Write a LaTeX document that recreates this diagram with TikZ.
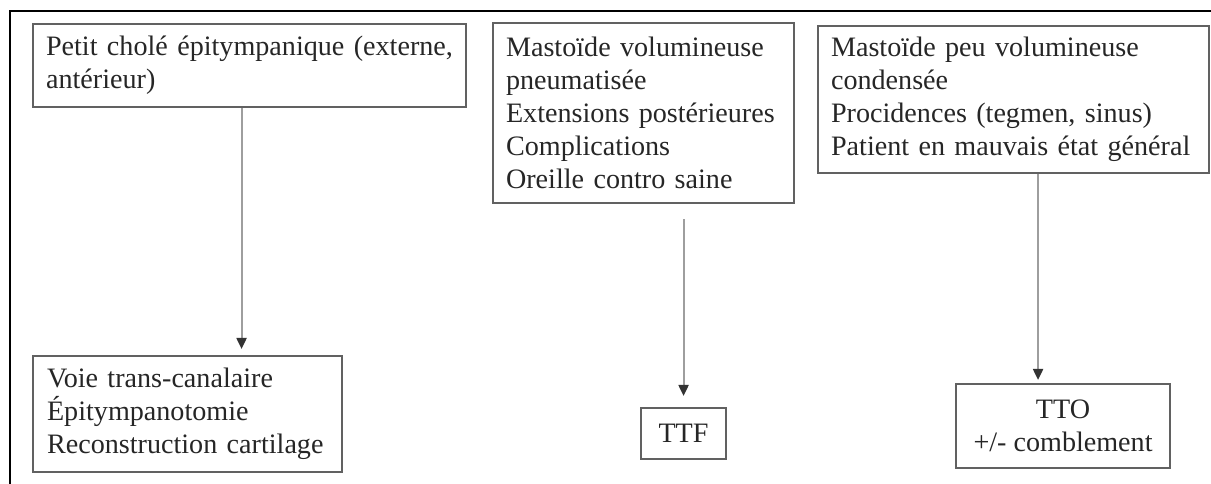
\documentclass[tikz,border=0pt]{standalone}
\usepackage{fontspec}
\setmainfont{Liberation Serif}
\usepackage{tikz}
\usetikzlibrary{positioning}
\usetikzlibrary{arrows.meta}

\newcommand{\pxu}{0.025cm}

\begin{document}
\begin{tikzpicture}[
	x=0.025cm, y=-0.025cm,
	font=\fontsize{20}{23.5}\selectfont
]
\tikzset{
    caserect/.style = {rectangle, draw=black!62, line width=1.5pt, text=black!85, align=left, anchor=north west, inner xsep=13*\pxu, inner ysep=0pt},
    fleche/.style = {draw=black!38, line width=1.4pt, -{Triangle[width=10*\pxu,length=11*\pxu,color=black!80]}}
}
\useasboundingbox (0,0) rectangle (1211,484);
\draw[line width=1.6pt] (10,484) -- (10,11) -- (1211,11);
\node[caserect,text width=407*\pxu,minimum height=83*\pxu] (petit) at (32,23) {Petit cholé épitympanique (externe,\\antérieur)};
\node[caserect,text width=275*\pxu,minimum height=180*\pxu] (volum) at (492,22) {Mastoïde volumineuse\\pneumatisée\\Extensions postérieures\\Complications\\Oreille contro saine};
\node[caserect,text width=365*\pxu,minimum height=147*\pxu] (peuvol) at (817,25) {Mastoïde peu volumineuse\\condensée\\Procidences (tegmen, sinus)\\Patient en mauvais état général};
\node[caserect,text width=281*\pxu,minimum height=116*\pxu,inner xsep=14*\pxu] (transcan) at (32,355) {Voie trans-canalaire\\Épitympanotomie\\Reconstruction cartilage};
\node[caserect,align=center,minimum width=85*\pxu,minimum height=51*\pxu] (ttf) at (640,407) {TTF};
\node[caserect,align=center,minimum width=214*\pxu,minimum height=84*\pxu] (tto) at (955,383) {TTO\\+/- comblement};
\coordinate (transin) at ([xshift=54*\pxu]transcan.north);
\coordinate (ttoin) at ([xshift=-25*\pxu]tto.north);
\draw[fleche,shorten >=6*\pxu] (transin |- petit.south) -- (transin);
\draw[fleche,shorten <=15*\pxu,shorten >=11*\pxu] (ttf.north |- volum.south) -- (ttf.north);
\draw[fleche,shorten >=3*\pxu] (ttoin |- peuvol.south) -- (ttoin);
\end{tikzpicture}
\end{document}
